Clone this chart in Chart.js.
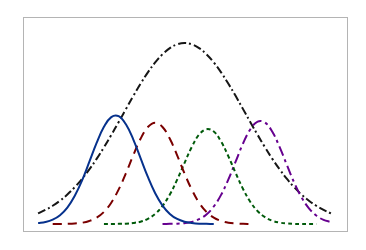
<!DOCTYPE html>
<html>
<head>
<meta charset="utf-8">
<script src="https://cdn.jsdelivr.net/npm/chart.js@4"></script>
<style>
  body { margin: 0; background: #fff; }
</style>
</head>
<body>
<canvas id="myChart" width="366" height="250"></canvas>
<script>
// x positions shared by all curves (0 .. 10, step 0.25)
const gridX = [0, 0.25, 0.5, 0.75, 1, 1.25, 1.5, 1.75, 2, 2.25, 2.5, 2.75, 3, 3.25, 3.5, 3.75, 4, 4.25, 4.5, 4.75,
  5, 5.25, 5.5, 5.75, 6, 6.25, 6.5, 6.75, 7, 7.25, 7.5, 7.75, 8, 8.25, 8.5, 8.75, 9, 9.25, 9.5, 9.75, 10];

const wide = [0.059, 0.078, 0.101, 0.129, 0.163, 0.203, 0.249, 0.302, 0.360, 0.424, 0.492, 0.563, 0.635, 0.707,
  0.775, 0.838, 0.893, 0.938, 0.972, 0.993, 1.0, 0.993, 0.972, 0.938, 0.893, 0.838, 0.775, 0.707, 0.635, 0.563,
  0.492, 0.424, 0.360, 0.302, 0.249, 0.203, 0.163, 0.129, 0.101, 0.078, 0.059];

const blue = [0.005, 0.011, 0.024, 0.049, 0.091, 0.155, 0.240, 0.343, 0.448, 0.537, 0.591, 0.596, 0.551, 0.468,
  0.364, 0.260, 0.170, 0.102, 0.056, 0.028, 0.013, 0.006, 0.002, 0.001, 0,
  null, null, null, null, null, null, null, null, null, null, null, null, null, null, null, null];

const red = [null, null, 0, 0, 0.001, 0.003, 0.007, 0.017, 0.035, 0.067, 0.118, 0.190, 0.280, 0.380, 0.471, 0.536,
  0.560, 0.536, 0.471, 0.380, 0.280, 0.190, 0.118, 0.067, 0.035, 0.017, 0.007, 0.003, 0.001, 0,
  null, null, null, null, null, null, null, null, null, null, null];

const green = [null, null, null, null, null, null, null, null, null, 0, 0, 0.001, 0.002, 0.006, 0.013, 0.029,
  0.056, 0.100, 0.163, 0.245, 0.337, 0.426, 0.494, 0.524, 0.511, 0.456, 0.374, 0.281, 0.194, 0.122, 0.071,
  0.038, 0.018, 0.008, 0.003, 0.001, 0, 0, 0, null, null];

const purple = [null, null, null, null, null, null, null, null, null, null, null, null, null, null, null, null,
  null, 0, 0.001, 0.002, 0.005, 0.012, 0.027, 0.053, 0.097, 0.161, 0.247, 0.346, 0.445, 0.524, 0.566, 0.561,
  0.510, 0.425, 0.325, 0.228, 0.147, 0.087, 0.047, 0.023, 0.011];

function pts(vals) {
  return gridX.map((x, i) => ({ x: x, y: vals[i] }));
}

function line(vals, color, dash) {
  return {
    data: pts(vals),
    borderColor: color,
    borderWidth: 2,
    borderDash: dash,
    pointRadius: 0,
    fill: false,
    tension: 0.4,
    spanGaps: false,
  };
}

const frame = {
  id: "frame",
  afterDraw(chart) {
    const a = chart.chartArea;
    const ctx = chart.ctx;
    ctx.save();
    ctx.strokeStyle = "#b4b4b4";
    ctx.lineWidth = 1;
    ctx.strokeRect(a.left - 0.5, a.top + 0.5, a.right - a.left + 1, a.bottom - a.top - 1);
    ctx.restore();
  },
};

const config = {
  type: "line",
  data: {
    datasets: [
      line(blue, "#06318c", []),
      line(red, "#7a0000", [9, 6]),
      line(green, "#005a0a", [4, 3]),
      line(purple, "#66008f", [10, 4, 3, 4]),
      line(wide, "#161616", [8, 3, 2, 3]),
    ],
  },
  options: {
    responsive: false,
    animation: false,
    layout: { padding: { left: 24, right: 19, top: 17, bottom: 18 } },
    plugins: { legend: { display: false }, tooltip: { enabled: false } },
    scales: {
      x: { type: "linear", display: false, min: -0.48, max: 10.55 },
      y: { display: false, min: -0.044, max: 1.144 },
    },
  },
  plugins: [frame],
};

const myChart = new Chart(document.getElementById("myChart"), config);
</script>
</body>
</html>
